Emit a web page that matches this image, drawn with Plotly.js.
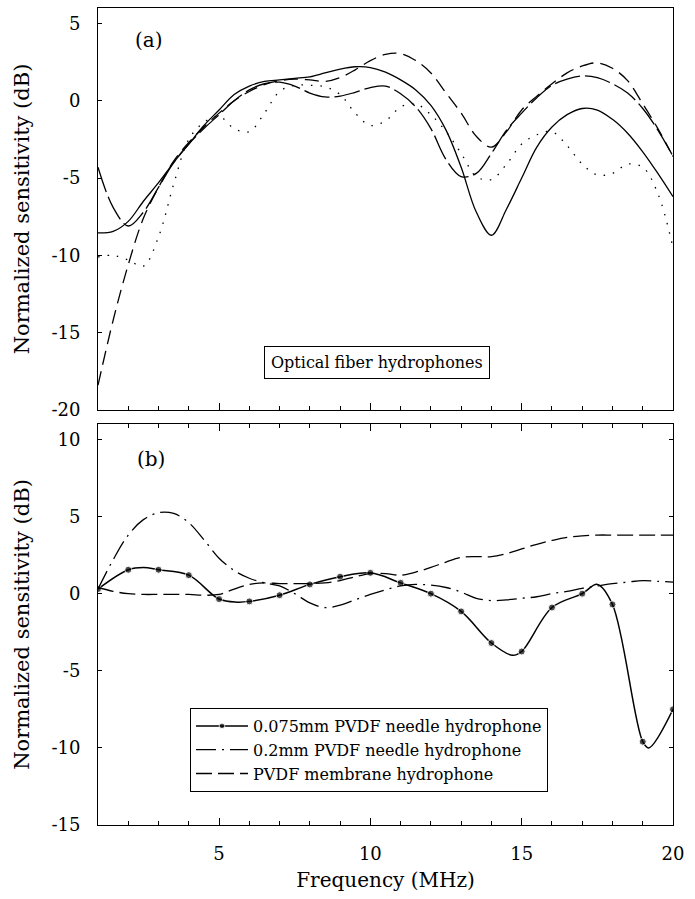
<!DOCTYPE html>
<html>
<head>
<meta charset="utf-8">
<script src="https://cdn.plot.ly/plotly-3.0.1.min.js"></script>
<style>html,body{margin:0;padding:0;background:#fff;}#chart{width:695px;height:899px;}</style>
</head>
<body>
<div id="chart"></div>
<script>
// ---------- Panel (a): optical fiber hydrophones ----------
const freqA = [1,1.5,2,2.5,3,3.5,4,4.5,5,5.5,6,6.5,7,7.5,8,8.5,9,9.5,10,10.5,11,11.5,12,12.5,13,13.5,14,14.5,15,15.5,16,16.5,17,17.5,18,18.5,19,19.5,20];
const fiberSolid = [-8.55,-8.45,-7.8,-6.5,-5.3,-4.0,-2.8,-1.6,-0.6,0.4,0.95,1.25,1.35,1.45,1.55,1.8,2.05,2.2,2.15,1.85,1.35,0.7,-0.3,-1.9,-4.3,-7.2,-8.7,-7.0,-5.0,-3.0,-1.7,-0.9,-0.5,-0.6,-1.2,-2.1,-3.3,-4.7,-6.2];
const fiberLongDash = [-18.4,-14.2,-10.6,-7.6,-5.6,-3.9,-2.7,-1.7,-0.8,0.0,0.6,1.05,1.3,1.4,1.35,1.25,1.5,2.0,2.6,3.0,3.05,2.6,1.8,0.5,-0.8,-2.3,-3.0,-2.0,-0.6,0.3,1.1,1.8,2.25,2.45,2.1,1.3,-0.2,-1.8,-3.6];
const fiberDash = [-4.3,-6.9,-8.1,-7.2,-5.6,-4.0,-2.8,-1.8,-0.9,0.0,0.7,1.1,1.2,0.95,0.5,0.25,0.3,0.55,0.85,0.95,0.45,-0.4,-1.8,-3.8,-4.9,-4.7,-3.4,-1.9,-0.8,0.2,1.0,1.4,1.6,1.5,1.1,0.5,-0.5,-1.9,-3.6];
const fiberDotted = [-10.1,-10.0,-10.3,-10.7,-8.8,-5.4,-2.5,-1.4,-1.0,-1.8,-2.0,-0.8,0.6,1.0,1.0,0.9,0.4,-0.8,-1.6,-1.3,-0.4,-0.2,-0.9,-2.0,-3.4,-4.9,-5.1,-4.1,-2.8,-2.2,-2.0,-2.9,-4.1,-4.8,-4.7,-4.1,-4.3,-6.0,-9.5];

// ---------- Panel (b): PVDF hydrophones ----------
const needle075Freq = [1,2,2.5,3,4,5,5.6,6,7,8,9,10,11,12,13,14,14.7,15,16,17,17.5,18,19,19.2,20];
const needle075 = [0.3,1.55,1.7,1.55,1.2,-0.35,-0.55,-0.5,-0.1,0.6,1.1,1.35,0.7,0.0,-1.15,-3.2,-4.0,-3.75,-0.9,0.0,0.6,-0.7,-9.6,-10.0,-7.5];
const freqB = [1,1.5,2,2.5,3,3.5,4,4.5,5,5.5,6,6.5,7,7.5,8,8.5,9,9.5,10,10.5,11,11.5,12,12.5,13,13.5,14,14.5,15,15.5,16,16.5,17,17.5,18,18.5,19,19.5,20];
const needle02 = [0.3,2.2,3.8,4.8,5.25,5.2,4.6,3.5,2.3,1.5,1.0,0.7,0.5,0.0,-0.6,-0.9,-0.75,-0.4,-0.05,0.25,0.5,0.6,0.55,0.4,0.1,-0.3,-0.45,-0.4,-0.3,-0.2,0.0,0.15,0.35,0.5,0.65,0.75,0.85,0.8,0.75];
const membrane = [0.4,0.15,0.0,-0.05,-0.05,-0.05,-0.05,-0.1,-0.05,0.3,0.6,0.7,0.65,0.65,0.65,0.7,0.85,1.1,1.3,1.3,1.2,1.4,1.7,2.05,2.35,2.4,2.4,2.6,2.9,3.2,3.45,3.65,3.75,3.8,3.8,3.8,3.8,3.8,3.8];

const seriesNames = ['0.075mm PVDF needle hydrophone','0.2mm PVDF needle hydrophone','PVDF membrane hydrophone'];
const xTickVals = [5,10,15,20];
const xTickText = ['5','10','15','20'];
const yTickValsA = [-20,-15,-10,-5,0,5];
const yTickTextA = ['-20','-15','-10','-5','0','5'];
const yTickValsB = [-15,-10,-5,0,5,10];
const yTickTextB = ['-15','-10','-5','0','5','10'];

const FONT = 'DejaVu Serif';
const LW = 1.3;

function topTrace(y, dash) {
  return {x: freqA, y: y, xaxis:'x', yaxis:'y', type:'scatter', mode:'lines',
          line:{color:'black', width:LW, dash:dash, shape:'spline', smoothing:1}, showlegend:false, hoverinfo:'skip'};
}

const traces = [
  topTrace(fiberSolid, 'solid'),
  topTrace(fiberLongDash, '14px,7px'),
  topTrace(fiberDash, '26px,5px'),
  topTrace(fiberDotted, '1.5px,8px'),
  {x: needle075Freq, y: needle075, xaxis:'x2', yaxis:'y2', type:'scatter', mode:'lines+markers',
   name: seriesNames[0],
   line:{color:'black', width:1.5, shape:'spline', smoothing:1},
   marker:{color:'black', symbol:'circle', size: needle075Freq.map(v => Number.isInteger(v) ? 7 : 0)}},
  {x: freqB, y: needle02, xaxis:'x2', yaxis:'y2', type:'scatter', mode:'lines',
   name: seriesNames[1],
   line:{color:'black', width:LW, dash:'20px,6px,2px,6px', shape:'spline', smoothing:1}},
  {x: freqB, y: membrane, xaxis:'x2', yaxis:'y2', type:'scatter', mode:'lines',
   name: seriesNames[2],
   line:{color:'black', width:LW, dash:'16px,6px', shape:'spline', smoothing:1}}
];

const baseX = {
  range:[1,20], tickvals:xTickVals, ticktext:xTickText, ticks:'inside', ticklen:7, tickwidth:1, tickcolor:'black',
  showline:true, linecolor:'black', linewidth:1, showgrid:false, zeroline:false,
  minor:{dtick:1, tick0:0, ticks:'inside', ticklen:4, tickwidth:1, tickcolor:'black', showgrid:false},
  tickfont:{family:FONT, size:18, color:'black'}
};
const baseY = {
  ticks:'inside', ticklen:4, tickwidth:1, tickcolor:'black',
  showline:true, linecolor:'black', linewidth:1, showgrid:false, zeroline:false,
  tickfont:{family:FONT, size:18, color:'black'}, ticklabelstandoff:13,
  title:{text:'Normalized sensitivity (dB)', font:{family:FONT, size:21, color:'black'}, standoff:16}
};

const layout = {
  width:695, height:899,
  margin:{l:98, r:22, t:8, b:74},
  paper_bgcolor:'white', plot_bgcolor:'white',
  font:{family:FONT, size:18, color:'black'},
  xaxis: Object.assign({}, baseX, {domain:[0,1], anchor:'y', showticklabels:false, mirror:true}),
  yaxis: Object.assign({}, baseY, {domain:[0.508,1], anchor:'x', range:[-20,6], tickvals:yTickValsA, ticktext:yTickTextA, mirror:true}),
  xaxis2: Object.assign({}, baseX, {domain:[0,1], anchor:'y2', showticklabels:true, mirror:'ticks', ticklabelstandoff:12,
    title:{text:'Frequency (MHz)', font:{family:FONT, size:20, color:'black'}, standoff:10}}),
  yaxis2: Object.assign({}, baseY, {domain:[0,0.4908], anchor:'x2', range:[-15,11], tickvals:yTickValsB, ticktext:yTickTextB, mirror:'ticks'}),
  showlegend:true,
  legend:{x:0.16, y:0.1432, xanchor:'left', yanchor:'top', bgcolor:'white', bordercolor:'black', borderwidth:1,
          font:{family:FONT, size:16, color:'black'}, tracegroupgap:0, itemwidth:52},
  annotations:[
    {text:'(a)', xref:'paper', yref:'paper', x:0.0887, y:0.961, showarrow:false, xanchor:'center', yanchor:'middle',
     font:{family:FONT, size:20, color:'black'}},
    {text:'(b)', xref:'paper', yref:'paper', x:0.092, y:0.448, showarrow:false, xanchor:'center', yanchor:'middle',
     font:{family:FONT, size:20, color:'black'}},
    {text:'Optical fiber hydrophones', xref:'paper', yref:'paper', x:0.485, y:0.5667, showarrow:false,
     xanchor:'center', yanchor:'middle', bordercolor:'black', borderwidth:1, borderpad:6, bgcolor:'white',
     font:{family:FONT, size:16, color:'black'}}
  ]
};

Plotly.newPlot('chart', traces, layout, {displayModeBar:false, staticPlot:true});
</script>
</body>
</html>
